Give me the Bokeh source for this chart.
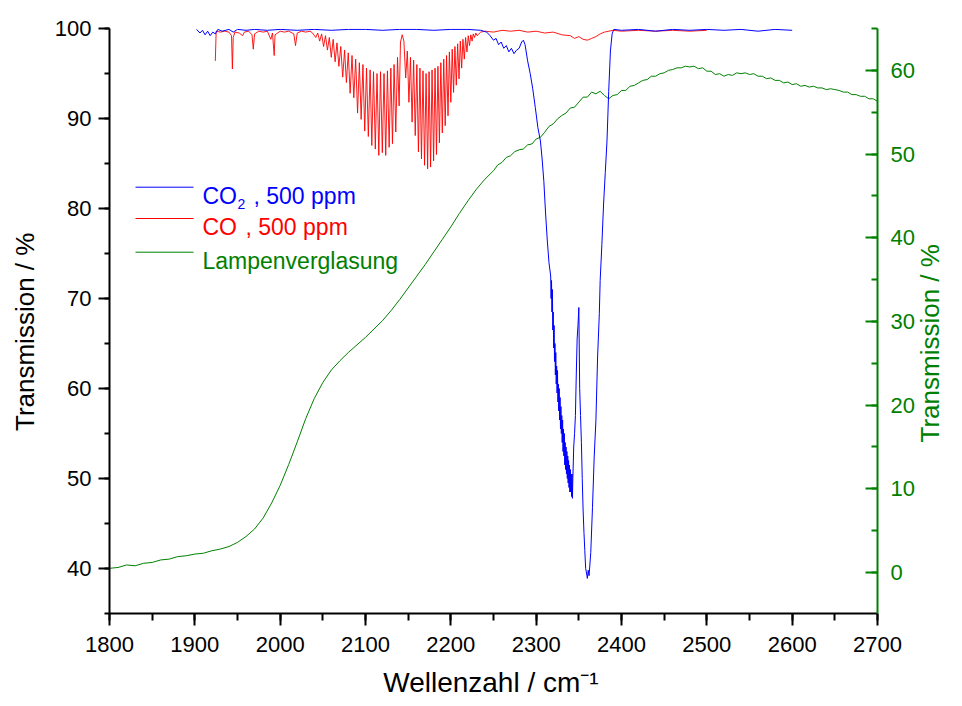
import math
from bokeh.plotting import figure
from bokeh.models import Range1d, LinearAxis, SingleIntervalTicker, FixedTicker, Label
from bokeh.embed import file_html
from bokeh.resources import INLINE

# ---------------- data ----------------
co2_wn = [1902, 1906, 1909, 1912, 1915, 1918, 1921, 1924, 1927, 1932, 1940, 1945, 1950, 1960, 1970,
          1985, 2000, 2020, 2040, 2060, 2080, 2100, 2120, 2140, 2160, 2180, 2200, 2220, 2235, 2242,
          2246, 2250, 2253, 2256, 2259, 2262, 2265, 2268, 2271, 2274, 2277, 2280, 2283, 2285, 2287,
          2290, 2293, 2296, 2299, 2302, 2305, 2307, 2309, 2311, 2313, 2315, 2317,
          2317.5, 2318, 2318.5, 2319, 2319.5, 2320, 2320.5, 2321, 2321.5, 2322, 2322.5, 2323,
          2323.5, 2324, 2324.5, 2325, 2325.5, 2326, 2326.5, 2327, 2327.5, 2328, 2328.5, 2329,
          2329.5, 2330, 2330.5, 2331, 2331.5, 2332, 2332.5, 2333, 2333.5, 2334, 2334.5, 2335,
          2335.5, 2336, 2336.5, 2337, 2337.5, 2338, 2338.5, 2339, 2339.5, 2340, 2340.5, 2341,
          2341.5, 2342, 2342.5, 2343, 2344, 2345, 2346, 2347, 2348, 2349, 2350,
          2351, 2352, 2353, 2354, 2355, 2356, 2357, 2358, 2359, 2360, 2361, 2362, 2363, 2364, 2366,
          2368, 2370, 2372, 2374, 2375, 2377, 2379, 2381, 2383, 2385, 2387, 2389, 2391, 2400, 2420,
          2440, 2460, 2480, 2500, 2520, 2540, 2560, 2580, 2600]
co2_T = [99.9, 99.5, 99.8, 99.3, 99.7, 99.2, 99.6, 99.4, 99.9, 99.7, 99.9, 99.6, 99.9, 99.8, 99.9,
         99.8, 99.9, 99.8, 99.9, 99.8, 99.9, 99.9, 99.8, 99.9, 99.9, 99.8, 99.9, 99.9, 99.8, 99.6,
         99.2, 98.7, 98.9, 98.2, 98.5, 97.8, 98.1, 97.4, 97.8, 97.2, 97.6, 97.8, 98.5, 98.7, 98.2,
         96.4, 95.0, 93.3, 91.2, 89.0, 87.5, 85.5, 83.0, 79.5, 76.5, 74.0, 72.5,
         70.0, 72.0, 68.5, 71.0, 66.5, 68.5, 64.5, 67.0, 63.0, 65.0, 61.5, 64.0,
         60.5, 62.5, 59.5, 62.0, 58.5, 60.5, 57.5, 60.0, 56.5, 59.0, 55.5, 58.0,
         55.0, 57.0, 54.0, 56.5, 53.0, 55.5, 52.5, 55.0, 51.5, 54.0, 51.0, 53.5,
         50.5, 53.0, 50.0, 52.5, 49.5, 52.0, 49.0, 51.5, 48.5, 51.0, 48.5, 50.5,
         48.0, 50.5, 47.8, 50.0, 53.5, 55.0, 57.0, 61.5, 65.5, 67.0, 69.0,
         60.0, 57.0, 54.0, 50.0, 46.5, 44.0, 42.0, 40.0, 39.5, 38.9, 39.8, 39.2, 40.5, 41.8, 46.8,
         52.4, 56.4, 63.5, 68.3, 72.0, 76.0, 80.5, 84.0, 87.5, 93.0, 97.5, 99.4, 99.9, 99.8, 99.9,
         99.7, 99.9, 99.8, 99.9, 99.8, 99.9, 99.7, 99.9, 99.8]

co_wn = [1924, 1925, 1930, 1935, 1940, 1943, 1944, 1945, 1947, 1952, 1956, 1958, 1963, 1967, 1968.5,
         1970, 1975, 1980, 1985, 1989, 1991, 1993, 1994, 2000, 2005, 2010, 2016, 2018, 2020, 2025,
         2030, 2035, 2038,
         2041.7, 2044.0, 2046.3, 2048.6, 2050.9, 2053.1, 2055.4, 2057.6, 2059.9, 2062.1, 2064.4,
         2066.6, 2068.8, 2071.0, 2073.3, 2075.5, 2077.6, 2079.8, 2082.0, 2084.2, 2086.3, 2088.5,
         2090.7, 2092.8, 2094.9, 2097.0, 2099.1, 2101.2, 2103.3, 2105.4, 2107.4, 2109.4, 2111.5,
         2113.5, 2115.6, 2117.6, 2119.7, 2121.7, 2123.7, 2125.7, 2127.7, 2129.7, 2131.6, 2133.5,
         2135.5, 2137.5, 2139.4, 2141.0, 2143.0, 2145.0,
         2147.1, 2149.0, 2150.9, 2152.7, 2154.6, 2156.4, 2158.3, 2160.2, 2162.0, 2163.8, 2165.6,
         2167.4, 2169.2, 2171.0, 2172.8, 2174.5, 2176.3, 2178.0, 2179.8, 2181.5, 2183.2, 2184.9,
         2186.6, 2188.3, 2190.0, 2191.7, 2193.4, 2195.0, 2196.7, 2198.3, 2200.0, 2201.6, 2203.2,
         2204.8, 2206.4, 2208.0, 2209.6, 2211.1, 2212.7, 2214.2, 2215.8, 2217.3, 2218.9, 2220.4,
         2221.9, 2223.4, 2224.9, 2226.3, 2227.8, 2229.3, 2230.7, 2235.0,
         2240, 2250, 2260, 2270, 2280, 2290, 2300, 2310, 2320, 2330, 2340, 2345, 2350, 2355, 2360,
         2365, 2370, 2375, 2380, 2390, 2400, 2420, 2440, 2460, 2480, 2500]
co_T = [96.4, 99.7, 99.6, 99.7, 99.6, 99.2, 95.5, 99.0, 99.6, 99.5, 99.2, 99.6, 99.7, 99.3, 97.7,
        99.4, 99.7, 99.6, 99.7, 98.8, 99.5, 97.0, 99.3, 99.7, 99.6, 99.7, 99.4, 98.1, 99.5, 99.7,
        99.6, 99.7, 99.5,
        99.0, 99.5, 98.6, 99.4, 98.0, 99.2, 97.6, 99.0, 96.8, 98.8, 96.3,
        98.4, 95.8, 98.0, 94.6, 97.6, 94.0, 97.3, 92.8, 97.0, 92.3, 96.6,
        90.6, 96.2, 89.9, 96.0, 88.6, 95.6, 88.0, 95.4, 87.0, 95.2, 86.6,
        95.0, 85.9, 95.2, 86.2, 95.0, 85.9, 95.3, 86.8, 95.6, 87.2, 96.0,
        88.5, 96.8, 91.4, 98.5, 99.3, 98.6,
        94.5, 97.5, 91.8, 96.8, 89.6, 96.5, 88.1, 96.0, 86.3, 95.6, 85.5,
        95.3, 84.8, 95.0, 84.4, 95.2, 84.6, 95.4, 85.3, 95.6, 86.0, 95.8,
        87.3, 96.2, 88.4, 96.6, 89.2, 97.0, 90.3, 97.4, 91.8, 97.7, 92.9,
        98.0, 93.7, 98.3, 94.4, 98.6, 95.6, 98.8, 96.6, 99.0, 97.4, 99.2,
        98.1, 99.3, 98.6, 99.4, 99.0, 99.5, 99.2, 99.6,
        99.7, 99.6, 99.8, 99.7, 99.8, 99.6, 99.7, 99.5, 99.6, 99.3, 99.2, 98.9, 99.1, 98.8, 98.7,
        98.9, 99.1, 99.4, 99.6, 99.8, 99.7, 99.8, 99.7, 99.8, 99.7, 99.8]

lamp_wn = [1800, 1810, 1820, 1830, 1840, 1850, 1860, 1870, 1880, 1890, 1900, 1910, 1920, 1930, 1940,
           1950, 1960, 1970, 1980, 1990, 2000, 2010, 2020, 2030, 2040, 2050, 2060, 2070, 2080, 2090,
           2100, 2110, 2120, 2130, 2140, 2150, 2160, 2170, 2180, 2190, 2200, 2210, 2220, 2230, 2240,
           2250, 2255, 2260, 2265, 2270, 2275, 2280, 2285, 2290, 2295, 2300, 2305, 2310, 2315, 2320,
           2325, 2330, 2335, 2340, 2345, 2350, 2355, 2360, 2365, 2370, 2375, 2380, 2385, 2390, 2395,
           2400, 2405, 2410, 2415, 2420, 2425, 2430, 2435, 2440, 2445, 2450, 2455, 2460, 2465, 2470,
           2475, 2480, 2485, 2490, 2495, 2500, 2505, 2510, 2515, 2520, 2525, 2530, 2535, 2540, 2545,
           2550, 2555, 2560, 2565, 2570, 2575, 2580, 2585, 2590, 2595, 2600, 2605, 2610, 2615, 2620,
           2625, 2630, 2635, 2640, 2645, 2650, 2655, 2660, 2665, 2670, 2675, 2680, 2685, 2690, 2695,
           2700]
lamp_T = [0.5, 0.6, 0.9, 0.8, 1.1, 1.2, 1.5, 1.6, 1.9, 2.0, 2.2, 2.3, 2.6, 2.8, 3.1,
          3.6, 4.3, 5.2, 6.5, 8.3, 10.4, 12.9, 15.6, 18.4, 20.8, 22.7, 24.2, 25.3, 26.3, 27.2,
          28.1, 29.1, 30.1, 31.3, 32.6, 34.0, 35.4, 36.8, 38.3, 39.8, 41.3, 42.9, 44.4, 45.8, 47.0,
          48.0, 48.7, 49.0, 49.6, 49.8, 50.3, 50.5, 50.6, 51.1, 51.2, 51.8, 52.0, 52.6, 53.3, 53.6,
          54.2, 54.6, 54.9, 55.5, 55.6, 56.2, 56.8, 56.8, 57.4, 57.2, 57.5, 57.0, 56.6, 57.0, 57.1,
          57.6, 57.6, 58.1, 58.2, 58.5, 58.8, 58.9, 59.3, 59.3, 59.6, 59.7, 60.0, 60.1, 60.3, 60.3,
          60.5, 60.4, 60.5, 60.2, 60.3, 59.9, 59.9, 59.5, 59.6, 59.3, 59.5, 59.4, 59.7, 59.6, 59.7,
          59.5, 59.6, 59.3, 59.3, 59.0, 59.1, 58.8, 58.8, 58.5, 58.6, 58.3, 58.4, 58.1, 58.2, 58.0,
          58.1, 57.9, 57.9, 57.7, 57.8, 57.7, 57.6, 57.4, 57.4, 57.1, 57.1, 56.9, 56.9, 56.6, 56.6,
          56.3]

x_ticks_interval = 100
left_ticks_interval = 10
right_ticks_interval = 10

BLUE = "#0000ff"
RED = "#ff0000"
GREEN = "#008000"
FONT = "Liberation Sans"
NB = "\u00a0"

# ---------------- main figure ----------------
p = figure(width=962, height=706, output_backend="svg", toolbar_location=None,
           x_range=Range1d(1800, 2700), y_range=Range1d(35, 100),
           min_border_left=109, min_border_right=85, min_border_top=28,
           min_border_bottom=93)
p.extra_y_ranges = {"green": Range1d(-4.9, 65)}
p.xgrid.visible = False
p.ygrid.visible = False
p.outline_line_color = None
p.background_fill_color = "white"
p.border_fill_color = "white"

# x axis
xa = p.xaxis[0]
xa.ticker = SingleIntervalTicker(interval=x_ticks_interval, num_minor_ticks=2)
xa.axis_line_width = 2
xa.major_tick_line_width = 2
xa.minor_tick_line_width = 2
xa.major_tick_out = 12
xa.major_tick_in = 0
xa.minor_tick_out = 7
xa.minor_tick_in = 0
xa.major_label_text_font = FONT
xa.major_label_text_font_size = "22px"
xa.major_label_text_color = "black"
xa.major_label_standoff = 11

# left y axis
ya = p.yaxis[0]
ya.ticker = SingleIntervalTicker(interval=left_ticks_interval, num_minor_ticks=2)
ya.axis_line_width = 2
ya.major_tick_line_width = 2
ya.minor_tick_line_width = 2
ya.major_tick_out = 11
ya.major_tick_in = 0
ya.minor_tick_out = 5
ya.minor_tick_in = 0
ya.major_label_text_font = FONT
ya.major_label_text_font_size = "22px"
ya.major_label_text_color = "black"
ya.major_label_standoff = 7
ya.axis_label = "Transmission / %" + NB * 3
ya.axis_label_text_font = FONT
ya.axis_label_text_font_size = "26px"
ya.axis_label_text_font_style = "normal"
ya.axis_label_text_color = "black"
ya.axis_label_standoff = 12

# right y axis (green)
ra = LinearAxis(y_range_name="green",
                ticker=SingleIntervalTicker(interval=right_ticks_interval, num_minor_ticks=2))
ra.axis_line_color = GREEN
ra.axis_line_width = 2
ra.major_tick_line_color = GREEN
ra.minor_tick_line_color = GREEN
ra.major_tick_line_width = 2
ra.minor_tick_line_width = 2
ra.major_tick_in = 12
ra.major_tick_out = 0
ra.minor_tick_in = 6
ra.minor_tick_out = 0
ra.major_label_text_font = FONT
ra.major_label_text_font_size = "22px"
ra.major_label_text_color = GREEN
ra.major_label_standoff = 13
p.add_layout(ra, "right")

# ---------------- axis titles as single-label helper axes ----------------
def title_axis(tick, text, color, size, standoff, orientation="horizontal"):
    ax = LinearAxis(ticker=FixedTicker(ticks=[tick], minor_ticks=[]),
                    major_label_overrides={tick: text})
    ax.axis_line_color = None
    ax.major_tick_line_color = None
    ax.minor_tick_line_color = None
    ax.major_tick_out = 0
    ax.major_tick_in = 0
    ax.minor_tick_out = 0
    ax.minor_tick_in = 0
    ax.major_label_text_font = FONT
    ax.major_label_text_font_size = size
    ax.major_label_text_color = color
    ax.major_label_standoff = standoff
    ax.major_label_orientation = orientation
    return ax

# right title (reads bottom-to-top); its text starts at y = 54 % of the left scale
p.add_layout(title_axis(54, "Transmission / %", GREEN, "26px", 12, math.pi / 2), "right")
# bottom title, centred under the plot
p.add_layout(title_axis(2247, "Wellenzahl / cm\u207b\u00b9", "black", "28px", 12), "below")

# ---------------- data lines ----------------
p.line(lamp_wn, lamp_T, y_range_name="green", line_color=GREEN, line_width=1)
p.line(co_wn, co_T, line_color=RED, line_width=1, line_alpha=0.9)
p.line(co2_wn, co2_T, line_color=BLUE, line_width=1)

# ---------------- legend (manual) ----------------
def px_x(px):
    return 1800 + (px - 109) * 900.0 / 768.0

def px_y(py):
    return 100 - (py - 28) * 65.0 / 585.0

leg_rows = [(186.7, BLUE), (218.0, RED), (251.7, GREEN)]
for py, col in leg_rows:
    p.segment(x0=[px_x(135)], y0=[px_y(py)], x1=[px_x(193)], y1=[px_y(py)],
              line_color=col, line_width=1)

def lab(text, x, y, color, size):
    p.add_layout(Label(x=x, y=y, text=text, text_color=color,
                       text_font=FONT, text_font_size=size, text_align="left",
                       text_baseline="alphabetic"))

lab("CO", px_x(202), px_y(195), BLUE, "23px")
lab("2", px_x(237), px_y(203), BLUE, "14px")
lab(", 500 ppm", px_x(253), px_y(195), BLUE, "23px")
lab("CO", px_x(202), px_y(226.7), RED, "23px")
lab(", 500 ppm", px_x(245), px_y(226.7), RED, "23px")
lab("Lampenverglasung", px_x(202), px_y(260), GREEN, "23px")

open("out.html", "w").write(file_html(p, INLINE))
